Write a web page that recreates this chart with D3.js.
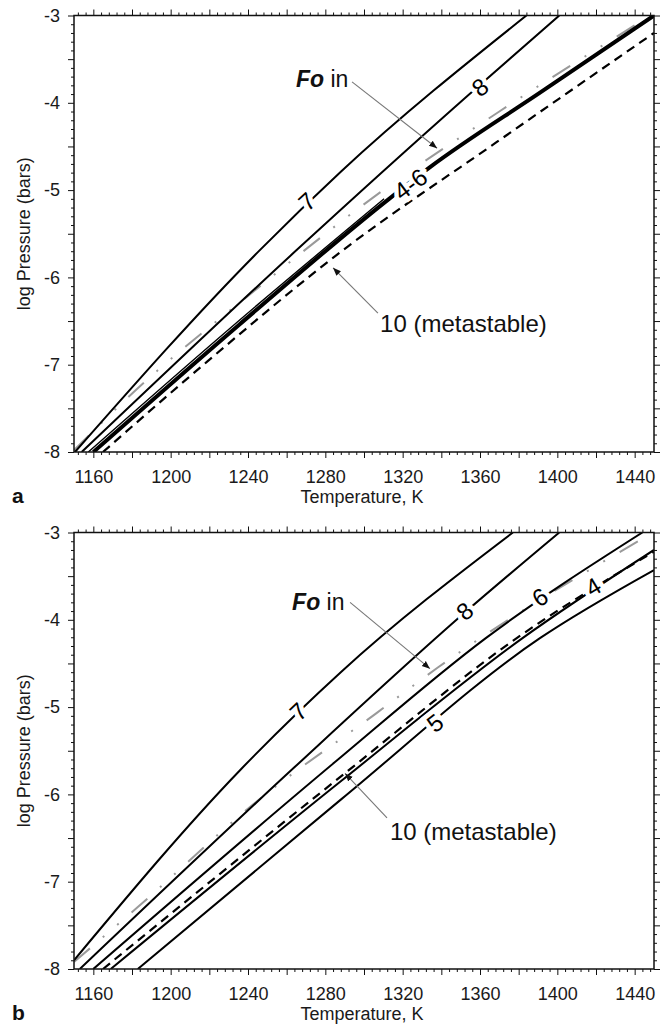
<!DOCTYPE html>
<html>
<head>
<meta charset="utf-8">
<script src="https://cdn.jsdelivr.net/npm/d3@7"></script>
<style>
  body { margin: 0; background: #fff; }
  svg { display: block; font-family: "Liberation Sans", Arial, Helvetica, sans-serif; }
</style>
</head>
<body>
<svg id="chart" width="668" height="1025"></svg>
<script>
// ---- data: [temperature K, log pressure (bars)] ----
// panel a
const aCurve7    = [[1150.5,-8.0],[1246,-5.69],[1288,-4.79],[1384,-3.0]];
const aCurve8    = [[1154,-8.0],[1265,-5.69],[1353,-3.93],[1401,-3.0]];
const aFoIn      = [[1150,-7.98],[1182,-7.29],[1244,-6.14],[1305,-5.08],[1370,-4.10],[1446,-3.03]];
const aCurve46   = [[1160,-8.0],[1235,-6.55],[1313,-5.1],[1334,-4.74],[1392,-3.87],[1450,-3.0]];
const aCurve46b  = [[1157.4,-8.0],[1232.4,-6.55],[1310.4,-5.1]];
const aCurve10   = [[1165,-8.0],[1217,-7.0],[1289,-5.69],[1368,-4.46],[1450,-3.2]];
// panel b
const bCurve7    = [[1150,-7.9],[1236,-5.72],[1288,-4.6],[1377,-3.0]];
const bCurve8    = [[1153,-8.0],[1264,-5.69],[1352,-3.92],[1401,-3.0]];
const bFoIn      = [[1150,-7.92],[1183,-7.29],[1244,-6.09],[1307,-5.06],[1338,-4.55],[1448,-3.02]];
const bCurve6    = [[1160,-8.0],[1285,-5.63],[1363,-4.21],[1444,-3.0]];
const bCurve4    = [[1169,-8.0],[1288,-5.85],[1382,-4.21],[1450,-3.2]];
const bCurve10   = [[1165,-8.0],[1290,-5.76],[1379,-4.21],[1450,-3.22]];
const bCurve5    = [[1183,-8.0],[1288,-6.06],[1391,-4.21],[1450,-3.43]];

// axis ticks
const tempTicks  = [1160,1200,1240,1280,1320,1360,1400,1440];
const pressTicks = [-8,-7,-6,-5,-4,-3];

// curve labels: text, T, logP, rotation
const aLabels = [["7",1270.5,-5.13,-42],["8",1360,-3.82,-38],["4-6",1324,-4.93,-37]];
const bLabels = [["7",1266,-5.05,-44],["8",1352,-3.9,-41],["6",1391,-3.74,-33],["4",1418.5,-3.62,-31],["5",1336.7,-5.18,-38]];

// callouts: [text start T, baseline logP], arrow [from T, P, to T, P]
const aFoText = [1264.8,-3.82],  aFoArrow = [1293.8,-3.76,1337.8,-4.52];
const bFoText = [1262.8,-3.89],  bFoArrow = [1292.8,-3.80,1334.1,-4.56];
const aMetaText = [1308.3,-6.63], aMetaArrow = [1307.2,-6.41,1284,-5.89];
const bMetaText = [1313.4,-6.52], bMetaArrow = [1311.9,-6.27,1290.2,-5.76];

// ---- drawing ----
const svg = d3.select("#chart");
const x = d3.scaleLinear().domain([1150,1450]).range([74,654]);

const defs = svg.append("defs");
defs.append("marker").attr("id","arrowhead")
  .attr("viewBox","0 0 10 10").attr("refX",10).attr("refY",5)
  .attr("markerWidth",8).attr("markerHeight",8).attr("markerUnits","userSpaceOnUse")
  .attr("orient","auto")
  .append("path").attr("d","M0,1 L10,5 L0,9 Z").attr("fill","#111");

const styles = {
  solid: {stroke:"#000", width:2,   dash:null},
  thick: {stroke:"#000", width:4,   dash:null},
  thin:  {stroke:"#000", width:1.4, dash:null},
  dash:  {stroke:"#000", width:2.2, dash:"9,6"},
  gray:  {stroke:"#9a9a9a", width:2, dash:"21,17,2,17,2,17"}
};

function drawPanel(id, top, bottom, series, labels, foText, foArrow, metaText, metaArrow, letter) {
  const y = d3.scaleLinear().domain([-8,-3]).range([bottom, top]);
  const g = svg.append("g").attr("id", id);

  defs.append("clipPath").attr("id","clip-"+id)
    .append("rect").attr("x",74).attr("y",top).attr("width",580).attr("height",bottom-top);

  const line = d3.line().x(d => x(d[0])).y(d => y(d[1])).curve(d3.curveMonotoneX);
  const curves = g.append("g").attr("clip-path","url(#clip-"+id+")");
  series.forEach(([data, kind]) => {
    const s = styles[kind];
    curves.append("path").datum(data).attr("d", line)
      .attr("fill","none").attr("stroke",s.stroke).attr("stroke-width",s.width)
      .attr("stroke-dasharray",s.dash).attr("stroke-linejoin","round");
  });

  // curve labels with white halo breaking the lines
  labels.forEach(([t, T, P, ang]) => {
    g.append("text").text(t)
      .attr("transform",`translate(${x(T)},${y(P)}) rotate(${ang})`)
      .attr("text-anchor","middle").attr("dy","0.36em")
      .attr("font-size",24).attr("fill","#000")
      .attr("stroke","#fff").attr("stroke-width",9).attr("paint-order","stroke");
  });

  // axes (ticks point outward on all four sides)
  const minorX = d3.range(1152,1450,4).filter(v => v % 20 !== 0);
  const majorX = d3.range(1160,1451,20);
  const minorY = d3.range(-80,-29).map(v => v/10).filter(v => Math.round(v*10) % 5 !== 0);
  const majorY = d3.range(-16,-5).map(v => v/2);
  const noDomain = sel => sel.select(".domain").remove();

  const axes = g.append("g").attr("class","axes");
  axes.append("g").attr("transform",`translate(0,${bottom})`)
    .call(d3.axisBottom(x).tickValues(minorX).tickSize(3).tickFormat("")).call(noDomain);
  axes.append("g").attr("transform",`translate(0,${bottom})`)
    .call(d3.axisBottom(x).tickValues(majorX).tickSize(6).tickPadding(12)
      .tickFormat(d => tempTicks.includes(d) ? d : "")).call(noDomain);
  axes.append("g").attr("transform",`translate(0,${top})`)
    .call(d3.axisTop(x).tickValues(minorX).tickSize(3).tickFormat("")).call(noDomain);
  axes.append("g").attr("transform",`translate(0,${top})`)
    .call(d3.axisTop(x).tickValues(majorX).tickSize(6).tickFormat("")).call(noDomain);
  axes.append("g").attr("transform","translate(74,0)")
    .call(d3.axisLeft(y).tickValues(minorY).tickSize(3).tickFormat("")).call(noDomain);
  axes.append("g").attr("transform","translate(74,0)")
    .call(d3.axisLeft(y).tickValues(majorY).tickSize(6).tickPadding(8)
      .tickFormat(d => pressTicks.includes(d) ? String(d) : "")).call(noDomain);
  axes.append("g").attr("transform","translate(654,0)")
    .call(d3.axisRight(y).tickValues(minorY).tickSize(3).tickFormat("")).call(noDomain);
  axes.append("g").attr("transform","translate(654,0)")
    .call(d3.axisRight(y).tickValues(majorY).tickSize(6).tickFormat("")).call(noDomain);
  axes.selectAll("line").attr("stroke","#111").attr("stroke-width",1);
  axes.selectAll("text").attr("font-size",18).attr("fill","#1a1a1a")
    .attr("font-family","'Liberation Sans', Arial, sans-serif");

  g.append("rect").attr("x",74).attr("y",top).attr("width",580).attr("height",bottom-top)
    .attr("fill","none").attr("stroke","#111").attr("stroke-width",1.5);

  // axis titles
  g.append("text").text("Temperature, K")
    .attr("x",362).attr("y",bottom+51).attr("text-anchor","middle")
    .attr("font-size",18).attr("fill","#1a1a1a");
  g.append("text").text("log Pressure (bars)")
    .attr("transform",`translate(30,${(top+bottom)/2}) rotate(-90)`)
    .attr("text-anchor","middle").attr("font-size",18).attr("fill","#1a1a1a");
  g.append("text").text(letter)
    .attr("x",12).attr("y",bottom+51).attr("font-size",21).attr("font-weight","bold").attr("fill","#111");

  // "Fo in" callout
  const fo = g.append("text").attr("x",x(foText[0])).attr("y",y(foText[1]))
    .attr("font-size",23).attr("fill","#111");
  fo.append("tspan").text("Fo").attr("font-weight","bold").attr("font-style","italic");
  fo.append("tspan").text(" in");
  g.append("line")
    .attr("x1",x(foArrow[0])).attr("y1",y(foArrow[1]))
    .attr("x2",x(foArrow[2])).attr("y2",y(foArrow[3]))
    .attr("stroke","#777").attr("stroke-width",1.1).attr("marker-end","url(#arrowhead)");

  // metastable callout
  g.append("text").text("10 (metastable)")
    .attr("x",x(metaText[0])).attr("y",y(metaText[1]))
    .attr("font-size",24).attr("fill","#111");
  g.append("line")
    .attr("x1",x(metaArrow[0])).attr("y1",y(metaArrow[1]))
    .attr("x2",x(metaArrow[2])).attr("y2",y(metaArrow[3]))
    .attr("stroke","#777").attr("stroke-width",1.1).attr("marker-end","url(#arrowhead)");
}

drawPanel("panel-a", 15.5, 452,
  [[aFoIn,"gray"],[aCurve10,"dash"],[aCurve7,"solid"],[aCurve8,"solid"],[aCurve46b,"thin"],[aCurve46,"thick"]],
  aLabels, aFoText, aFoArrow, aMetaText, aMetaArrow, "a");

drawPanel("panel-b", 532.5, 969,
  [[bFoIn,"gray"],[bCurve7,"solid"],[bCurve8,"solid"],[bCurve6,"solid"],[bCurve4,"solid"],[bCurve10,"dash"],[bCurve5,"solid"]],
  bLabels, bFoText, bFoArrow, bMetaText, bMetaArrow, "b");
</script>
</body>
</html>
